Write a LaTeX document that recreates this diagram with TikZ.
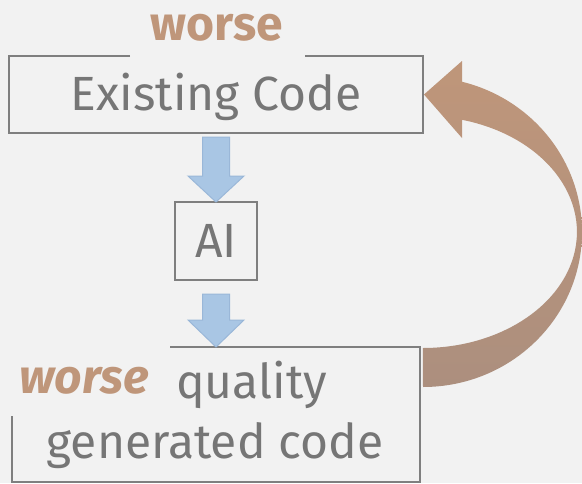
\documentclass[tikz,border=0pt]{standalone}
\usepackage{fontspec}
\setmainfont{Fira Sans}
\usetikzlibrary{calc}
\definecolor{bg}{HTML}{F2F2F2}
\definecolor{txtgray}{HTML}{767676}
\definecolor{linegray}{HTML}{7F7F7F}
\definecolor{brownA}{HTML}{BF967A}
\definecolor{brownB}{HTML}{AC8F7E}
\definecolor{blueF}{HTML}{A9C6E4}
\definecolor{blueS}{HTML}{9AB7D8}
\tikzset{
  boxline/.style={draw=linegray, line width=2pt},
  holder/.style={inner sep=0pt, outer sep=0pt},
  maintext/.style={inner sep=0pt, text=txtgray, font=\fontsize{48}{58}\selectfont},
  worsetext/.style={inner sep=0pt, text=brownA, font=\fontsize{48}{58}\selectfont\bfseries},
  blockarrow/.style={fill=blueF, draw=blueS, line width=1pt, line join=miter},
  loopfill/.style={top color=brownA, bottom color=brownB, draw=none}
}
\begin{document}
\begin{tikzpicture}[x=1pt, y=-1pt]
\useasboundingbox[fill=bg] (0,0) rectangle (582,483);
% box placeholders
\node[holder, minimum width=414pt, minimum height=77pt] (ex) at (216,94.5) {};
\node[holder, boxline, minimum width=82pt, minimum height=78pt] (ai) at (216,241) {};
\node[holder, minimum width=408pt, minimum height=135pt] (gen) at (216,414.5) {};
% box borders
\draw[boxline] ($(ex.north west)+(121,0)$) -- (ex.north west) -- (ex.south west)
  -- (ex.south east) -- (ex.north east) -- ($(ex.north east)+(-118,0)$);
\draw[boxline] ($(gen.north west)+(158,0)$) -- (gen.north east) -- (gen.south east)
  -- (gen.south west) -- ($(gen.south west)+(0,-66)$);
% texts
\node[maintext, anchor=base] (extxt) at (216,110) {Existing Code};
\node[worsetext, anchor=base] (w1) at (216.5,40) {worse};
\node[maintext] (aitxt) at (ai.center) {AI};
\node[maintext, anchor=base west] (qual) at (176,398) {quality};
\node[maintext, anchor=base] (gentxt) at (215,458) {generated code};
\node[worsetext, anchor=base west, font=\fontsize{48}{58}\selectfont\bfseries\itshape] (w2) at (19,393) {worse};
% blue block arrows
\path let \p1=($(ex.south)+(0,4)$), \p2=(ai.north) in
  [blockarrow] (\x1-13.5pt,\y1) -- (\x1+13.5pt,\y1) -- (\x1+13.5pt,\y2+26pt)
  -- (\x1+28pt,\y2+26pt) -- (\x2,\y2) -- (\x1-28pt,\y2+26pt) -- (\x1-13.5pt,\y2+26pt) -- cycle;
\path let \p1=($(ai.south)+(0,14)$), \p2=(gen.north) in
  [blockarrow] (\x1-13.5pt,\y1) -- (\x1+13.5pt,\y1) -- (\x1+13.5pt,\y2+27pt)
  -- (\x1+28pt,\y2+27pt) -- (\x2,\y2) -- (\x1-28pt,\y2+27pt) -- (\x1-13.5pt,\y2+27pt) -- cycle;
% curved feedback arrow
\coordinate (tip) at ($(ex.east)+(1,0)$);
\coordinate (cc) at (423,232);
\path[loopfill] ($(cc)+(0,155)$)
  arc[start angle=90, end angle=-75.8, x radius=159, y radius=155]
  -- ($(tip)+(38,-33.5)$) -- (tip) -- ($(tip)+(38,43.5)$)
  -- ($(cc)+(39,-112.2)$)
  arc[start angle=-75.3, end angle=90, x radius=154, y radius=116] -- cycle;
\end{tikzpicture}
\end{document}
